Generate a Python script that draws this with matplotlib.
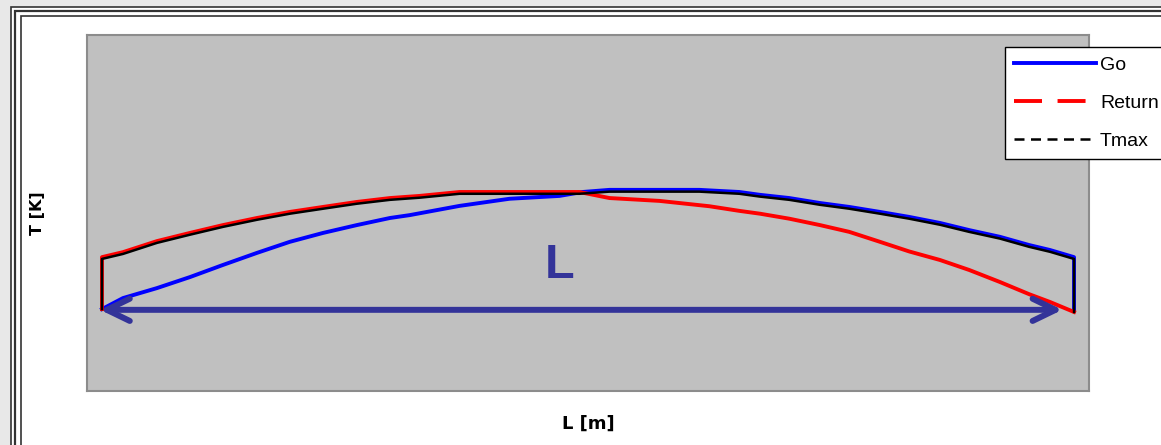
# Go / Return temperature profile along the length L, with the Tmax envelope
import matplotlib.pyplot as plt
from matplotlib.lines import Line2D
from matplotlib.patches import Rectangle

# position along the pipe [m] and temperatures [K]
x_go = [0.0, 2.16, 5.65, 9.05, 12.44, 15.95, 19.32, 22.74, 26.21, 29.63, 31.65,
        36.79, 41.93, 47.07, 49.43, 52.21, 61.46, 65.57, 67.70, 70.71, 73.87,
        76.88, 80.04, 83.04, 86.21, 89.21, 92.39, 95.38, 97.53, 100.0, 100.0]
t_go = [323.0, 326.1, 328.9, 332.0, 335.4, 338.8, 341.9, 344.4, 346.6, 348.6, 349.4,
        352.0, 354.0, 354.8, 355.9, 356.5, 356.5, 355.9, 355.1, 354.2, 352.8,
        351.7, 350.3, 348.9, 347.2, 345.2, 343.3, 341.0, 339.6, 337.6, 322.8]

x_ret = [0.0, 0.0, 2.16, 5.65, 9.05, 12.44, 15.95, 19.32, 22.74, 26.21, 29.63,
         32.68, 36.79, 49.1, 52.21, 57.35, 62.49, 65.57, 67.70, 70.71, 73.87,
         76.88, 80.04, 83.04, 86.21, 89.21, 92.39, 95.38, 97.53, 100.0]
t_ret = [323.0, 337.6, 339.0, 342.1, 344.4, 346.6, 348.6, 350.3, 351.7, 353.1, 354.2,
         354.8, 355.9, 355.9, 354.2, 353.4, 351.9, 350.6, 349.8, 348.4, 346.6,
         344.7, 341.9, 339.2, 336.8, 334.0, 330.6, 327.2, 325.0, 322.2]

x_tmax = [0.0, 0.0, 2.16, 5.65, 9.05, 12.44, 15.95, 19.32, 22.74, 26.21, 29.63,
          32.68, 36.79, 49.1, 52.21, 61.46, 65.57, 67.70, 70.71, 73.87, 76.88,
          80.04, 83.04, 86.21, 89.21, 92.39, 95.38, 97.53, 100.0, 100.0]
t_tmax = [323.0, 337.1, 338.5, 341.6, 343.9, 346.1, 348.1, 349.8, 351.2, 352.6, 353.7,
          354.3, 355.4, 355.4, 356.0, 356.0, 355.4, 354.6, 353.7, 352.3, 351.2,
          349.8, 348.4, 346.7, 344.7, 342.8, 340.5, 339.1, 337.1, 322.2]

fig = plt.figure(figsize=(11.61, 4.45), dpi=100)
fig.patch.set_facecolor('#e8e8e8')

W, H = 1161.0, 445.0
# window-like triple frame
for i, (px, py) in enumerate([(11, 7), (15, 11), (21, 16)]):
    r = Rectangle((px / W, -0.1), 2.0, 1 - py / H + 0.1, transform=fig.transFigure,
                  facecolor='white' if i == 0 else 'none', edgecolor='#333333',
                  linewidth=1.2 if i != 1 else 1.6, zorder=-10)
    fig.add_artist(r)

ax = fig.add_axes([87 / W, 1 - 391 / H, (1089 - 87) / W, (391 - 35) / H])
ax.set_facecolor('#c0c0c0')
for s in ax.spines.values():
    s.set_color('#8c8c8c')
    s.set_linewidth(1.5)

ax.plot(x_go, t_go, color='#0000ff', lw=2.8, zorder=3)
ax.plot(x_ret, t_ret, color='#ff0000', lw=2.8, zorder=4)
ax.plot(x_tmax, t_tmax, color='black', lw=1.8, zorder=5)

# dimension arrow and label
ax.annotate('', xy=(x_go[0] - 0.2, t_go[0] - 0.2), xytext=(98.8, t_go[0] - 0.2),
            arrowprops=dict(arrowstyle='<->,head_length=1.65,head_width=0.8',
                            color='#333399', lw=4.3, shrinkA=0, shrinkB=0,
                            capstyle='round', joinstyle='round'), zorder=6)
ax.text(47.1, 335.3, 'L', color='#333399', fontsize=35, fontweight='bold',
        family='Liberation Sans', ha='center', va='center', zorder=6)

ax.set_xlim(-1.54, 101.54)
ax.set_ylim(300, 400)
ax.set_xticks([])
ax.set_yticks([])
ax.set_xlabel('L [m]', fontsize=13, fontweight='bold', labelpad=17)
ax.set_ylabel('T [K]', fontsize=11.5, fontweight='bold', labelpad=30)

handles = [
    Line2D([], [], color='#0000ff', lw=2.8),
    Line2D([], [], color='#ff0000', lw=2.8, dashes=(7.2, 4)),
    Line2D([], [], color='black', lw=1.8, dashes=(4, 2.6)),
]
leg = fig.legend(handles, ['Go', 'Return', 'Tmax'], loc='upper left',
                 bbox_to_anchor=(1005 / W, 1 - 47 / H), borderaxespad=0,
                 prop={'family': 'Liberation Sans', 'size': 14},
                 handlelength=4.2, handletextpad=0.2, labelspacing=1.05,
                 borderpad=0.48, fancybox=False, framealpha=1, edgecolor='black')
leg.get_frame().set_linewidth(1.0)
leg.set_zorder(10)

fig.savefig('out.png', dpi=100, facecolor=fig.get_facecolor())
